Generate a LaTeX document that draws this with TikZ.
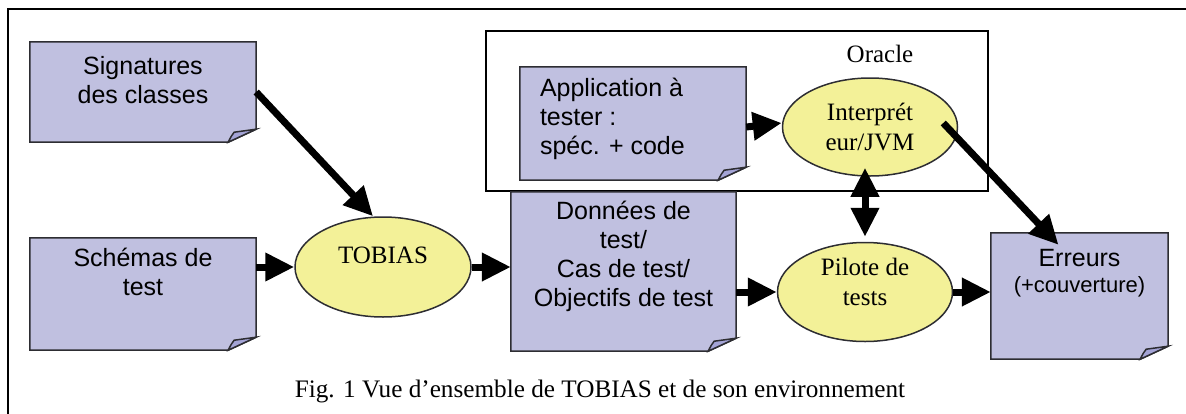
\documentclass[tikz,border=0pt]{standalone}
\usepackage{fontspec}
\setmainfont{Liberation Serif}
\setsansfont{Liberation Sans}
\usetikzlibrary{arrows.meta,shapes.geometric,calc,positioning}

\definecolor{docfill}{RGB}{192,192,224}
\definecolor{foldfill}{RGB}{164,164,214}
\definecolor{ovalfill}{RGB}{243,241,152}
\definecolor{docline}{RGB}{45,45,50}

% outline of a document box with its folded corner
\newcommand{\dogear}[1]{%
  \fill[white] (#1.south east) -- ++(-28pt,0) -- ++(28pt,13pt) -- cycle;
  \draw[doc line] ($(#1.south east)+(0,13)$) -- (#1.north east) -- (#1.north west)
    -- (#1.south west) -- ($(#1.south east)+(-28,0)$) -- cycle;
  \filldraw[doc line,fill=foldfill] ($(#1.south east)+(-28,0)$)
    .. controls ($(#1.south east)+(-25,6)$) .. ($(#1.south east)+(-22,10)$)
    -- ($(#1.south east)+(0,13)$) -- cycle;}

\begin{document}
\begin{tikzpicture}[x=1pt,y=1pt,>={Triangle[length=29pt,width=27pt]},line join=miter]
\tikzstyle{doc}=[rectangle,fill=docfill,inner sep=0pt]
\tikzstyle{doc line}=[draw=docline,line width=1.5pt]
\tikzstyle{doc text}=[anchor=north,inner sep=0pt,align=center,
  font=\sffamily\fontsize{25}{29}\selectfont]
\tikzstyle{oval}=[ellipse,fill=ovalfill,draw=docline,line width=1.5pt,inner sep=0pt,
  align=center,font=\fontsize{25}{29.5}\selectfont]
\tikzstyle{flow}=[->,line width=7pt]
\useasboundingbox (0,0) rectangle (1186,-413);

% frames
\draw[line width=2pt] (8,-430) -- (8,-9) -- (1200,-9);
\node[draw,line width=2pt,minimum width=502pt,minimum height=160pt,inner sep=0pt] (oracle) at (737,-111) {};
\node[font=\fontsize{25}{29}\selectfont,anchor=base,inner sep=0pt] (oraclelbl) at (880,-62) {Oracle};

% document boxes
\node[doc,minimum width=226pt,minimum height=100pt] (sig) at (143,-92) {};
\node[doc,minimum width=226pt,minimum height=112pt] (schemas) at (143,-294) {};
\node[doc,minimum width=225pt,minimum height=159pt] (donnees) at (623.5,-271.5) {};
\node[doc,minimum width=226pt,minimum height=113pt] (appli) at (633,-123.5) {};
\node[doc,minimum width=177pt,minimum height=126pt] (erreurs) at (1079.5,-296) {};
\dogear{sig}
\dogear{schemas}
\dogear{donnees}
\dogear{appli}
\dogear{erreurs}

\node[doc text] (sigtxt) at ($(sig.north)+(0,-14.5)$) {Signatures\\des classes};
\node[doc text] (schemastxt) at ($(schemas.north)+(0,-10)$) {Schémas de\\test};
\node[doc text] (donneestxt) at ($(donnees.north)+(0,-9)$) {Données de\\test/\\Cas de test/\\Objectifs de test};
\node[doc text,anchor=north west,align=left] (applitxt) at ($(appli.north west)+(20,-11)$) {Application à\\tester :\\spéc. + code};
\node[doc text,font=\sffamily\fontsize{25}{26}\selectfont] (erreurstxt) at ($(erreurs.north)+(0,-16)$) {Erreurs\\{\fontsize{22}{26}\selectfont(+couverture)}};

% tools
\node[oval,minimum width=176pt,minimum height=100pt,text height=17pt,text depth=25pt] (tobias) at (383,-267) {TOBIAS};
\node[oval,minimum width=175pt,minimum height=98pt] (interp) at (870,-127) {Interprét\\eur/JVM};
\node[oval,minimum width=175pt,minimum height=99pt,text height=27pt] (pilote) at (865,-292) {Pilote de\\tests};

\coordinate (jvmout) at ($(interp.east)+(-15,4)$);
\coordinate (errin) at ($(erreurs.north)+(-21,-12)$);
\coordinate (jvmin) at ($(pilote.north |- interp.south)+(0,9)$);
\coordinate (pilin) at ($(pilote.north)+(0,5)$);

\path
(sig.east) edge[flow] ($(tobias.north)+(-10,0)$)
(schemas.east |- tobias.west) edge[flow] (tobias.west)
(tobias.east) edge[flow] (donnees.west |- tobias.east)
(appli.east |- interp.west) edge[flow] ($(interp.west)+(0,4)$)
(donnees.east |- pilote.west) edge[flow] (pilote.west)
(pilote.east) edge[flow] (erreurs.west |- pilote.east)
(jvmout) edge[flow] (errin)
(pilin) edge[flow,<->] (jvmin)
;

\node[font=\fontsize{25.2}{29}\selectfont,anchor=base,inner sep=0pt] (caption) at (600,-397) {Fig. 1 Vue d’ensemble de TOBIAS et de son environnement};
\end{tikzpicture}
\end{document}
